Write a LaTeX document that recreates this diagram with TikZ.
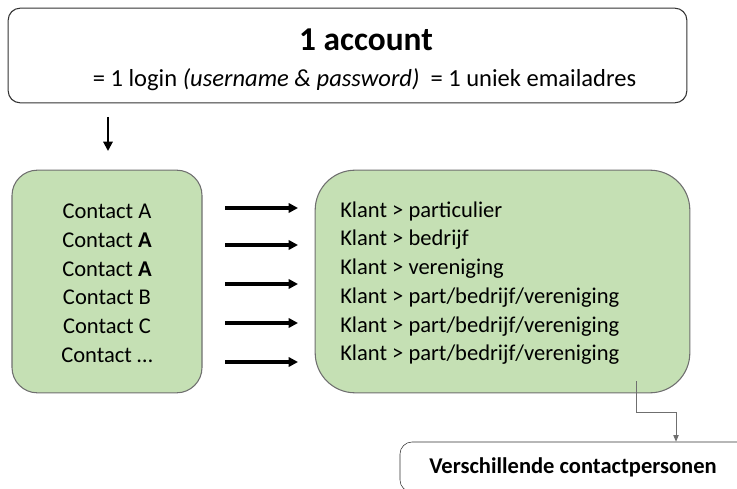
\documentclass[tikz,border=0pt]{standalone}
\usepackage{fontspec}
\setmainfont{Carlito}
\usetikzlibrary{arrows.meta}

\definecolor{lightgreen}{HTML}{C5E0B4}
\definecolor{framegray}{HTML}{6F6F6F}

\tikzstyle{headbox} = [rectangle, rounded corners=9pt, draw=black!80, fill=white, thick, minimum width=509pt, minimum height=71pt]
\tikzstyle{greenbox} = [rectangle, draw=framegray, fill=lightgreen, thick, minimum height=167pt]
\tikzstyle{line} = [inner sep=0pt, font=\fontsize{16.9}{20}\selectfont]
\tikzstyle{arrow} = [line width=2.4pt,-{Triangle[length=7pt,width=7pt]}]
\tikzstyle{thinarrow} = [draw=framegray, line width=0.7pt,-{Triangle[length=5pt,width=4pt]}]

\begin{document}
\begin{tikzpicture}[x=0.75pt, y=-0.75pt]
\useasboundingbox (0,0) rectangle (737,488);

% top box
\node (account) [headbox] at (347.5,55.5) {};
\node (title) [inner sep=0pt, font=\fontsize{25}{30}\selectfont\bfseries] at (366,40) {1 account};
\node (login) [inner sep=0pt, font=\fontsize{18.4}{22}\selectfont] at (364.5,80) {= 1 login \emph{(username \& password)} \ = 1 uniek emailadres};

% contact box
\node (contacts) [greenbox, rounded corners=19pt, minimum width=142.5pt] at (107,281.5) {};
\node (c1) [line] at (107,211) {Contact A};
\node (c2) [line] at (107,240) {Contact \textbf{A}};
\node (c3) [line] at (107,269) {Contact \textbf{A}};
\node (c4) [line] at (107,297.5) {Contact B};
\node (c5) [line] at (107,326.5) {Contact C};
\node (c6) [line] at (107,355) {Contact \dots};

% klant box
\node (klant) [greenbox, rounded corners=30pt, minimum width=281pt] at (502.5,281.5) {};
\node (k1) [line, anchor=west] at (340,211) {Klant > particulier};
\node (k2) [line, anchor=west] at (340,240) {Klant > bedrijf};
\node (k3) [line, anchor=west] at (340,269) {Klant > vereniging};
\node (k4) [line, anchor=west] at (340,297.5) {Klant > part/bedrijf/vereniging};
\node (k5) [line, anchor=west] at (340,326.5) {Klant > part/bedrijf/vereniging};
\node (k6) [line, anchor=west] at (340,355) {Klant > part/bedrijf/vereniging};

% bottom box (runs off the right edge)
\node (personen) [rectangle, rounded corners=9pt, draw=black!80, fill=white, minimum width=300pt, minimum height=37.5pt] at (600,467) {};
\node (personentext) [inner sep=0pt, font=\fontsize{16.9}{20}\selectfont\bfseries] at (573,467) {Verschillende contactpersonen};

\coordinate (down1) at (108,117);
\coordinate (down2) at (108,151);
\coordinate (a1) at (225,208);
\coordinate (b1) at (298,208);
\coordinate (a2) at (225,245);
\coordinate (b2) at (298,245);
\coordinate (a3) at (225,284);
\coordinate (b3) at (298,284);
\coordinate (a4) at (225,323);
\coordinate (b4) at (298,323);
\coordinate (a5) at (225,362);
\coordinate (b5) at (298,362);
\coordinate (link) at (636,381);
\coordinate (turn) at (676,412);

\draw [arrow, line width=1.5pt] (down1) -- (down2);
\draw [arrow] (a1) -- (b1);
\draw [arrow] (a2) -- (b2);
\draw [arrow] (a3) -- (b3);
\draw [arrow] (a4) -- (b4);
\draw [arrow] (a5) -- (b5);
\draw [thinarrow] (link) |- (turn) -- (turn |- personen.north);
\end{tikzpicture}
\end{document}
